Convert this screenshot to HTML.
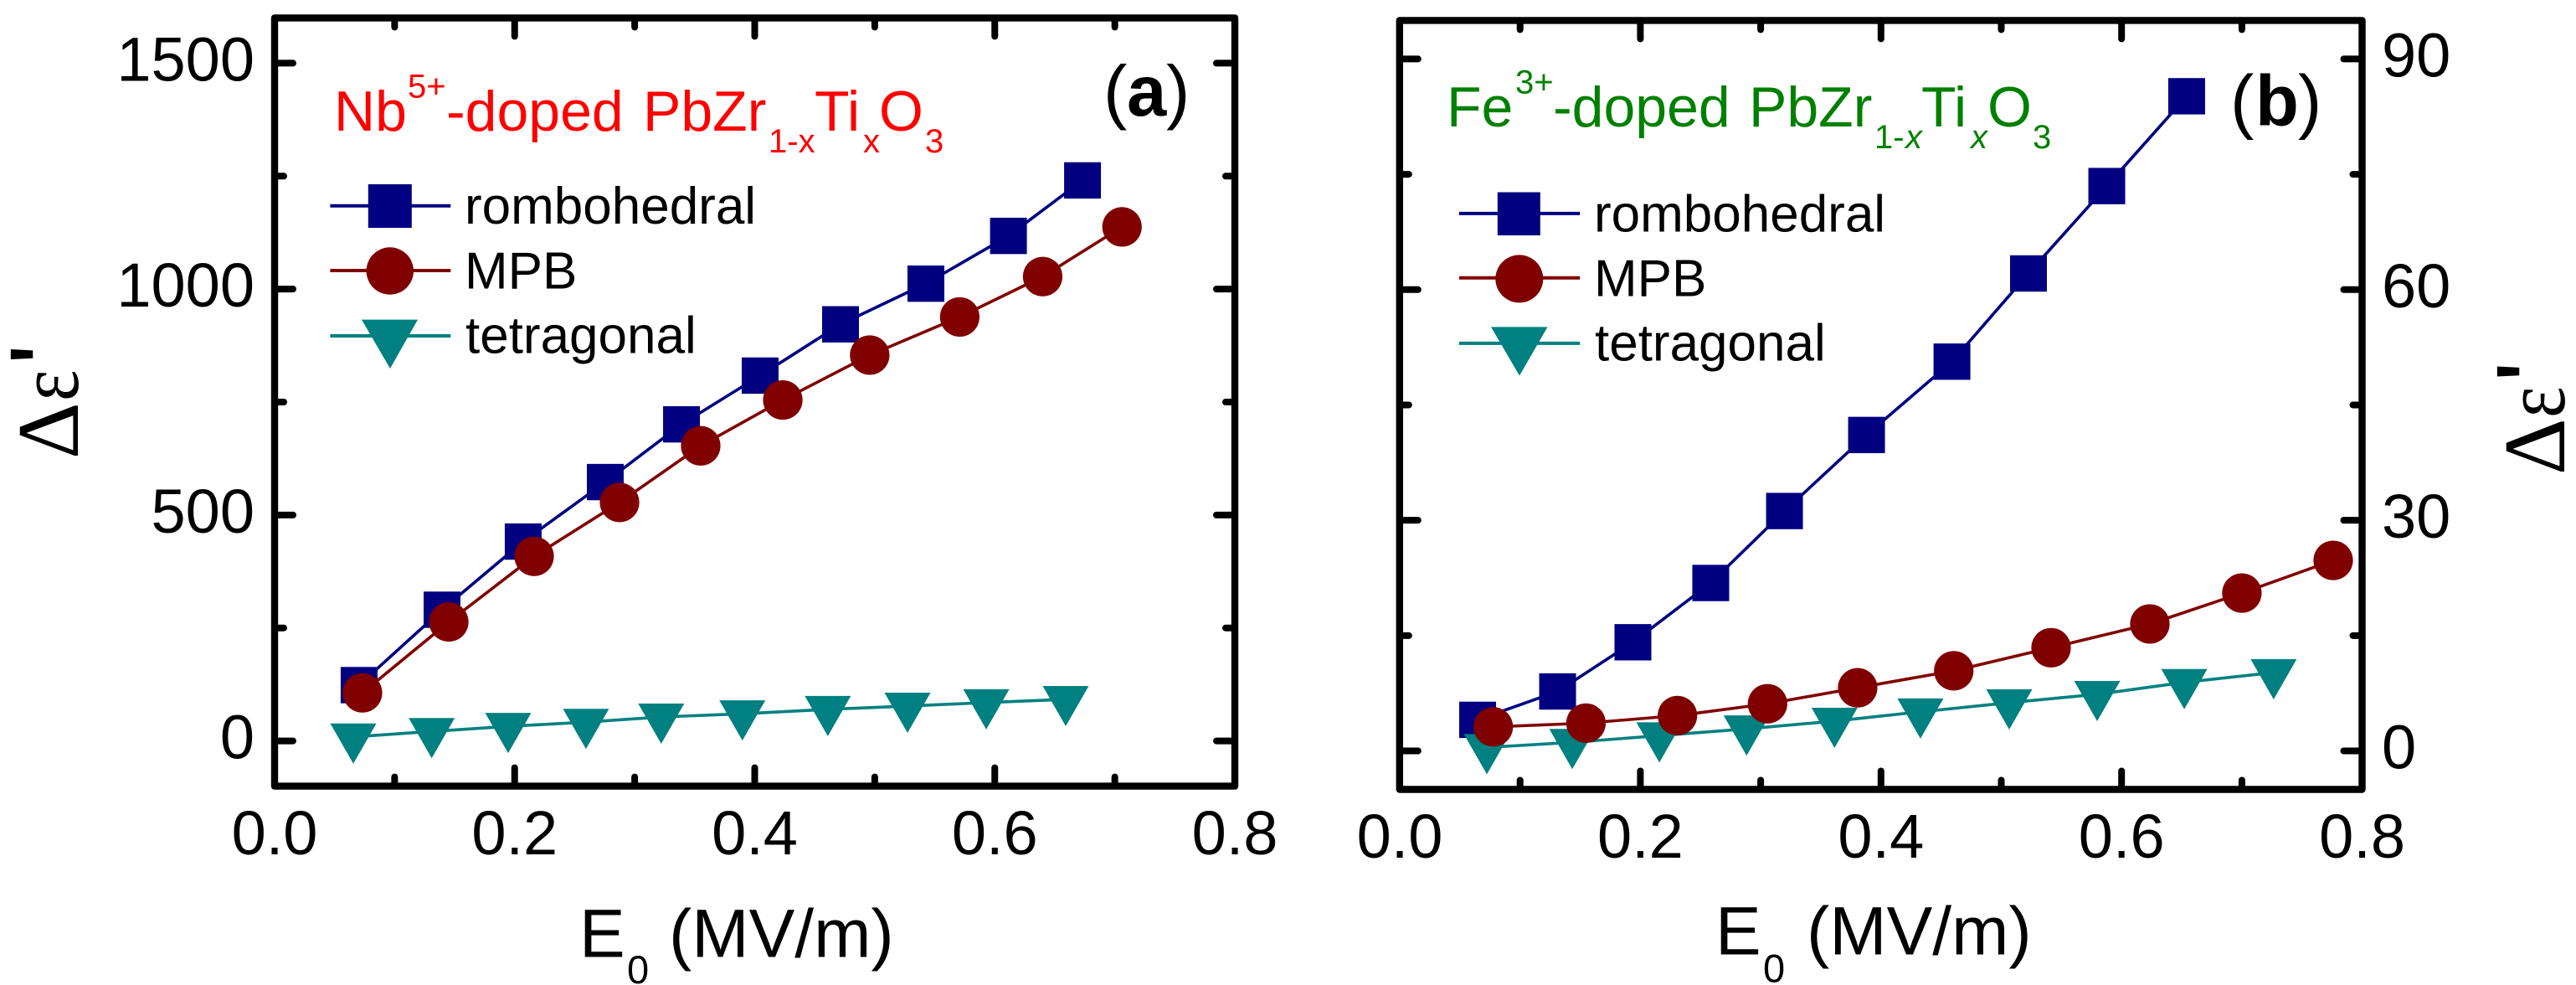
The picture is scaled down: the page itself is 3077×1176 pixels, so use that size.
<!DOCTYPE html>
<html lang="en">
<head>
<meta charset="utf-8">
<title>Field dependence of permittivity change in doped PZT</title>
<style>
  html, body { margin: 0; padding: 0; background: #fff; }
  svg { display: block; }
  text { font-family: "Liberation Sans", sans-serif; fill: #000; }
  .tick-label { font-size: 74px; }
  .axis-title { font-size: 82px; }
  .axis-sub { font-size: 47px; }
  .legend-text { font-size: 62px; }
  .doping { font-size: 68px; }
  .doping-small { font-size: 40px; }
  .panel-tag { font-size: 85px; }
  .symbol { font-family: "Liberation Serif", serif; font-size: 105px; }
  .prime { font-size: 115px; stroke: #000; stroke-width: 1.5px; }
</style>
</head>
<body>
<svg id="chart" xmlns="http://www.w3.org/2000/svg" width="3077" height="1176" viewBox="0 0 3077 1176">
  <rect x="0" y="0" width="3077" height="1176" fill="#fff"/>
  <g id="panel-a"></g>
  <g id="panel-b"></g>

  <g>
    <text class="symbol" transform="translate(93 548) rotate(-90)">Δ</text>
    <text class="symbol" transform="translate(93 479) rotate(-90) scale(0.85 1)">ε</text>
    <text class="prime" transform="translate(93 434) rotate(-90)">'</text>
  </g>
  <g>
    <text class="symbol" transform="translate(3063 567) rotate(-90)">Δ</text>
    <text class="symbol" transform="translate(3063 499) rotate(-90) scale(0.85 1)">ε</text>
    <text class="prime" transform="translate(3063 454.5) rotate(-90)">'</text>
  </g>

  <g>
    <text class="axis-title" x="692" y="1142.6">E</text>
    <text class="axis-sub" x="749" y="1174">0</text>
    <text class="axis-title" x="799" y="1142.6">(MV/m)</text>
  </g>
  <g>
    <text class="axis-title" x="2049" y="1139.5">E</text>
    <text class="axis-sub" x="2106" y="1172.4">0</text>
    <text class="axis-title" x="2158" y="1139.5">(MV/m)</text>
  </g>

  <text class="doping" style="fill:#ff0000">
    <tspan x="399" y="155.8">Nb</tspan><tspan class="doping-small" x="487" y="116.7">5+</tspan><tspan x="533" y="155.8">-doped</tspan><tspan x="768" y="155.8">PbZr</tspan><tspan class="doping-small" x="918" y="181.8">1-x</tspan><tspan x="973" y="155.8">Ti</tspan><tspan class="doping-small" x="1031" y="181.8">x</tspan><tspan x="1050" y="155.8">O</tspan><tspan class="doping-small" x="1105" y="181.8">3</tspan>
  </text>
  <text class="doping" style="fill:#008000">
    <tspan x="1728" y="150.8">Fe</tspan><tspan class="doping-small" x="1810" y="111.7">3+</tspan><tspan x="1855" y="150.8">-doped</tspan><tspan x="2089" y="150.8">PbZr</tspan><tspan class="doping-small" x="2239" y="177.2">1-</tspan><tspan class="doping-small" x="2276" y="177.2" font-style="italic">x</tspan><tspan x="2295" y="150.8">Ti</tspan><tspan class="doping-small" x="2354" y="177.2" font-style="italic">x</tspan><tspan x="2374" y="150.8">O</tspan><tspan class="doping-small" x="2428" y="177.2">3</tspan>
  </text>

  <text class="panel-tag"><tspan x="1318" y="137.8">(</tspan><tspan x="1346" y="137.8" font-weight="bold">a</tspan><tspan x="1393" y="137.8">)</tspan></text>
  <text class="panel-tag"><tspan x="2664" y="149.3">(</tspan><tspan x="2694" y="149.3" font-weight="bold">b</tspan><tspan x="2745" y="149.3">)</tspan></text>

  <g>
    <g>
      <line x1="394.4" x2="538.3" y1="245.7" y2="245.7" stroke="#000080" stroke-width="4"/>
      <rect x="439.8" y="220" width="52" height="52" fill="#000080"/>
      <text class="legend-text" x="555" y="267">rombohedral</text>
    </g>
    <g>
      <line x1="394.4" x2="538.3" y1="323" y2="323" stroke="#800000" stroke-width="4"/>
      <circle cx="465.8" cy="323.5" r="28.2" fill="#800000"/>
      <text class="legend-text" x="555" y="344.4">MPB</text>
    </g>
    <g>
      <line x1="394.4" x2="538.3" y1="401" y2="401" stroke="#008080" stroke-width="4"/>
      <polygon points="432,381.6 499,381.6 466,440" fill="#008080"/>
      <text class="legend-text" x="556" y="421.7">tetragonal</text>
    </g>
  </g>
  <g>
    <g>
      <line x1="1742.9" x2="1887.2" y1="254.9" y2="254.9" stroke="#000080" stroke-width="4"/>
      <rect x="1788.8" y="229.5" width="51" height="51.5" fill="#000080"/>
      <text class="legend-text" x="1904" y="276.7">rombohedral</text>
    </g>
    <g>
      <line x1="1742.9" x2="1887.2" y1="331.8" y2="331.8" stroke="#800000" stroke-width="4"/>
      <circle cx="1814.8" cy="332.9" r="28.5" fill="#800000"/>
      <text class="legend-text" x="1904" y="353.6">MPB</text>
    </g>
    <g>
      <line x1="1742.9" x2="1887.2" y1="409.9" y2="409.9" stroke="#008080" stroke-width="4"/>
      <polygon points="1781,390.4 1848.5,390.4 1815,448.5" fill="#008080"/>
      <text class="legend-text" x="1905" y="430.5">tetragonal</text>
    </g>
  </g>
</svg>

<script>
// ---- Shared axis data ----
const xTicks = [0, 0.2, 0.4, 0.6, 0.8];
const xMinorTicks = [0.1, 0.3, 0.5, 0.7];
const xTickLabels = ["0.0", "0.2", "0.4", "0.6", "0.8"];

// ---- Panel (a): Nb5+-doped ----
const aYTicks = [0, 500, 1000, 1500];
const aYMinorTicks = [250, 750, 1250];
const aYTickLabels = ["0", "500", "1000", "1500"];
const aRomboX = [0.0704, 0.1395, 0.2071, 0.2755, 0.339, 0.4045, 0.4715, 0.5426, 0.6114, 0.6731];
const aRomboY = [123.5, 290.3, 441.2, 572.9, 700.6, 808.5, 922, 1012, 1117.7, 1240.5];
const aMpbX = [0.0732, 0.1451, 0.2162, 0.2874, 0.355, 0.4234, 0.4958, 0.5708, 0.6399, 0.706];
const aMpbY = [106.4, 263.4, 408.6, 527.8, 653.1, 754.5, 853.9, 938.3, 1027.6, 1137.6];
const aTetraX = [0.0656, 0.1309, 0.1946, 0.2594, 0.3221, 0.3897, 0.4609, 0.5273, 0.5929, 0.6591];
const aTetraY = [8.9, 21, 32.3, 41.5, 53, 60.1, 69.9, 77.2, 84.8, 92];

// ---- Panel (b): Fe3+-doped ----
const bYTicks = [0, 30, 60, 90];
const bYMinorTicks = [15, 45, 75];
const bYTickLabels = ["0", "30", "60", "90"];
const bRomboX = [0.0647, 0.1312, 0.1938, 0.2585, 0.3198, 0.388, 0.459, 0.5226, 0.5877, 0.6541];
const bRomboY = [4.04, 7.73, 14.13, 21.84, 31.2, 41.09, 50.63, 62.1, 73.47, 85.15];
const bMpbX = [0.0777, 0.1548, 0.2308, 0.3057, 0.3806, 0.4605, 0.5414, 0.6235, 0.7, 0.7759];
const bMpbY = [3.13, 3.61, 4.59, 6.13, 8.21, 10.42, 13.42, 16.51, 20.53, 24.78];
const bTetraX = [0.0724, 0.1434, 0.2158, 0.2883, 0.3614, 0.4328, 0.5066, 0.5797, 0.6521, 0.7264];
const bTetraY = [0.45, 1.11, 1.98, 2.87, 3.87, 5.08, 6.27, 7.36, 8.91, 10.19];

const NS = "http://www.w3.org/2000/svg";
const NAVY = "#000080", MAROON = "#800000", TEAL = "#008080";

function make(tag, parent) {
  const el = document.createElementNS(NS, tag);
  parent.appendChild(el);
  return el;
}

function tickLine(parent, name, x1, y1, x2, y2) {
  const t = make("line", parent);
  
  
  t.setAttribute("x1", x1);
  t.setAttribute("y1", y1);
  t.setAttribute("x2", x2);
  t.setAttribute("y2", y2);
  t.setAttribute("stroke", "#000");
  t.setAttribute("stroke-width", 8);
  t.setAttribute("stroke-linecap", "round");
}

function drawAxes(g, box, xScale, yScale, yTicks, yMinor, yLabels) {
  const MAJOR = 22, MINOR = 11, HALF = 4;
  xTicks.forEach(function (v) {
    const x = xScale(v);
    if (v > 0 && v < 0.8) {
      tickLine(g, "x-tick-bottom", x, box.bottom, x, box.bottom - HALF - MAJOR + 4);
      tickLine(g, "x-tick-top", x, box.top, x, box.top + HALF + MAJOR - 4);
    }
  });
  xMinorTicks.forEach(function (v) {
    const x = xScale(v);
    tickLine(g, "x-minor-tick-bottom", x, box.bottom, x, box.bottom - HALF - MINOR + 4);
    tickLine(g, "x-minor-tick-top", x, box.top, x, box.top + HALF + MINOR - 4);
  });
  yTicks.forEach(function (v) {
    const y = yScale(v);
    tickLine(g, "y-tick-left", box.left, y, box.left + HALF + MAJOR - 4, y);
    tickLine(g, "y-tick-right", box.right, y, box.right - HALF - MAJOR + 4, y);
  });
  yMinor.forEach(function (v) {
    const y = yScale(v);
    tickLine(g, "y-minor-tick-left", box.left, y, box.left + HALF + MINOR - 4, y);
    tickLine(g, "y-minor-tick-right", box.right, y, box.right - HALF - MINOR + 4, y);
  });

  const frame = make("rect", g);
  
  
  frame.setAttribute("x", box.left);
  frame.setAttribute("y", box.top);
  frame.setAttribute("width", box.right - box.left);
  frame.setAttribute("height", box.bottom - box.top);
  frame.setAttribute("fill", "none");
  frame.setAttribute("stroke", "#000");
  frame.setAttribute("stroke-width", 8.4);
  frame.setAttribute("stroke-linejoin", "round");

  xTicks.forEach(function (v, i) {
    const t = make("text", g);
    
    
    t.setAttribute("class", "tick-label");
    t.setAttribute("x", xScale(v));
    t.setAttribute("y", box.xLabelBaseline);
    t.setAttribute("text-anchor", "middle");
    t.textContent = xTickLabels[i];
  });
  yTicks.forEach(function (v, i) {
    const t = make("text", g);
    
    
    t.setAttribute("class", "tick-label");
    t.setAttribute("x", box.yLabelX);
    t.setAttribute("y", yScale(v) + 21);
    t.setAttribute("text-anchor", box.yLabelAnchor);
    t.textContent = yLabels[i];
  });
}

function drawSeries(g, name, kind, color, xs, ys, xScale, yScale) {
  const group = make("g", g);
  
  

  const line = make("polyline", group);
  
  
  line.setAttribute("points", xs.map(function (v, i) { return xScale(v) + "," + yScale(ys[i]); }).join(" "));
  line.setAttribute("fill", "none");
  line.setAttribute("stroke", color);
  line.setAttribute("stroke-width", 3.6);

  xs.forEach(function (v, i) {
    const cx = xScale(v), cy = yScale(ys[i]);
    let m;
    if (kind === "square") {
      m = make("rect", group);
      m.setAttribute("x", cx - 22);
      m.setAttribute("y", cy - 21.7);
      m.setAttribute("width", 44);
      m.setAttribute("height", 43.4);
    } else if (kind === "circle") {
      m = make("circle", group);
      m.setAttribute("cx", cx);
      m.setAttribute("cy", cy);
      m.setAttribute("r", 23.6);
    } else {
      m = make("polygon", group);
      m.setAttribute("points", (cx - 27.5) + "," + (cy - 16) + " " + (cx + 27.5) + "," + (cy - 16) + " " + cx + "," + (cy + 32));
    }
    
    
    m.setAttribute("fill", color);
  });
}

function linear(d0, d1, r0, r1) {
  return function (v) { return r0 + (v - d0) / (d1 - d0) * (r1 - r0); };
}

// Panel (a)
(function () {
  const g = document.getElementById("panel-a");
  const box = { left: 328, right: 1475, top: 21.4, bottom: 938.6, xLabelBaseline: 1020, yLabelX: 304, yLabelAnchor: "end" };
  const xScale = linear(0, 0.8, 328, 1475);
  const yScale = linear(0, 1500, 884.6, 75.4);
  drawSeries(g, "rombohedral-a", "square", NAVY, aRomboX, aRomboY, xScale, yScale);
  drawSeries(g, "mpb-a", "circle", MAROON, aMpbX, aMpbY, xScale, yScale);
  drawSeries(g, "tetragonal-a", "triangle", TEAL, aTetraX, aTetraY, xScale, yScale);
  drawAxes(g, box, xScale, yScale, aYTicks, aYMinorTicks, aYTickLabels);
})();

// Panel (b)
(function () {
  const g = document.getElementById("panel-b");
  const box = { left: 1671.8, right: 2821.5, top: 24.4, bottom: 942.5, xLabelBaseline: 1024, yLabelX: 2845, yLabelAnchor: "start" };
  const xScale = linear(0, 0.8, 1672, 2821.6);
  const yScale = linear(0, 90, 896.5, 70.4);
  drawSeries(g, "rombohedral-b", "square", NAVY, bRomboX, bRomboY, xScale, yScale);
  drawSeries(g, "tetragonal-b", "triangle", TEAL, bTetraX, bTetraY, xScale, yScale);
  drawSeries(g, "mpb-b", "circle", MAROON, bMpbX, bMpbY, xScale, yScale);
  drawAxes(g, box, xScale, yScale, bYTicks, bYMinorTicks, bYTickLabels);
})();
</script>
</body>
</html>
